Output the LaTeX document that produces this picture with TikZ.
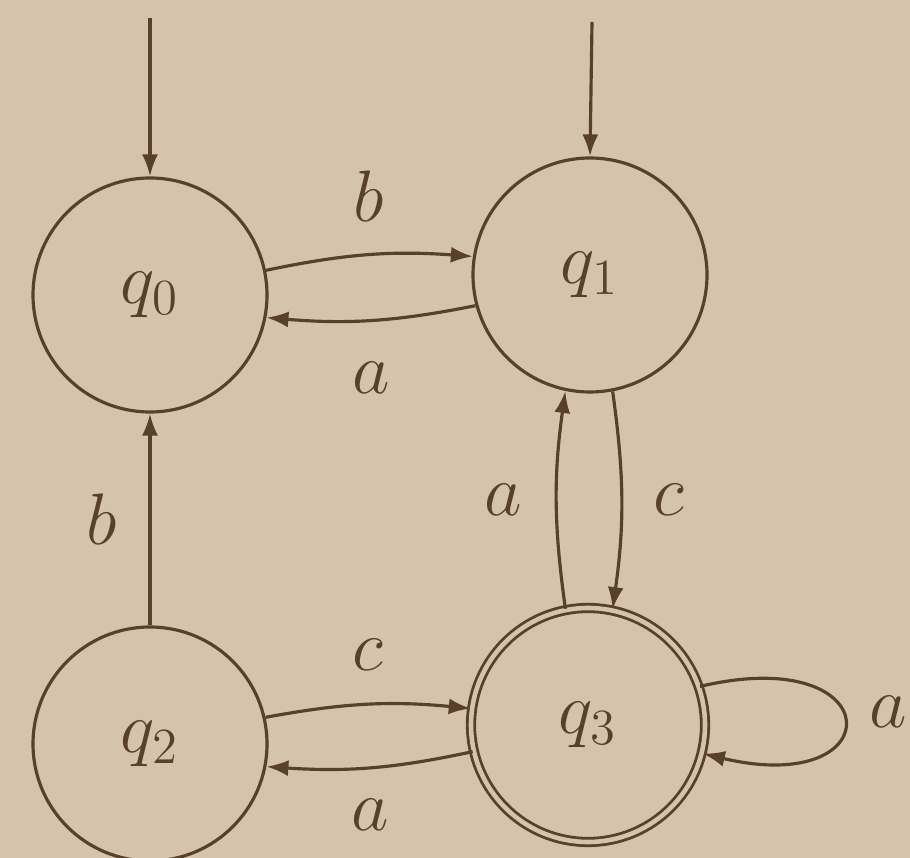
\documentclass[tikz,border=0pt]{standalone}
\usetikzlibrary{arrows.meta}
\definecolor{paper}{RGB}{213,195,172}
\definecolor{ink}{RGB}{88,64,44}

\begin{document}
\begin{tikzpicture}[
	circ/.style={circle, draw=ink, text=ink, line width=0.9pt, minimum size=2.34cm, inner sep=0pt, font=\huge},
	accept/.style={circ, double=paper, double distance=1.3pt, line width=0.8pt},
	line/.style={draw=ink, line width=0.9pt, -{Latex[length=2.2mm, width=1.6mm]}},
	lbl/.style={font=\huge, text=ink, inner sep=0pt},
	]
	\fill[paper] (0,0) rectangle (9.1,8.58);
	\useasboundingbox (0,0) rectangle (9.1,8.58);

	\node[circ] (q0) at (1.50,5.63) {$q_0$};
	\node[circ] (q1) at (5.90,5.83) {$q_1$};
	\node[circ] (q2) at (1.50,1.14) {$q_2$};
	\node[accept] (q3) at (5.88,1.33) {$q_3$};
	\coordinate (in0) at (1.50,8.40);
	\coordinate (in1) at (5.92,8.36);

	%Startpfeile
	\path[line] (in0) to (q0.north);
	\path[line] (in1) to (q1.north);

	%Uebergaenge
	\path[line] (q0.12) to[bend left=8] node[lbl, midway, above=3.2mm] {$b$} (q1.171);
	\path[line] (q1.195) to[bend left=8] node[lbl, midway, below=4mm] {$a$} (q0.349);
	\path[line] (q2.north) to node[lbl, midway, left=3.2mm] {$b$} (q0.south);
	\path[line] (q3.101) to[bend left=8] node[lbl, midway, left=3.3mm] {$a$} (q1.258);
	\path[line] (q1.281) to[bend left=8] node[lbl, midway, right=3mm] {$c$} (q3.78);
	\path[line] (q2.13) to[bend left=8] node[lbl, midway, above=3.2mm] {$c$} (q3.172);
	\path[line] (q3.193) to[bend left=8] node[lbl, midway, below=3mm] {$a$} (q2.349);
	\path[line] (q3.19) .. controls +(1.9,0.45) and +(1.9,-0.45) .. (q3.-14);
	\node[lbl] (loopa) at (8.88,1.46) {$a$};
\end{tikzpicture}
\end{document}
